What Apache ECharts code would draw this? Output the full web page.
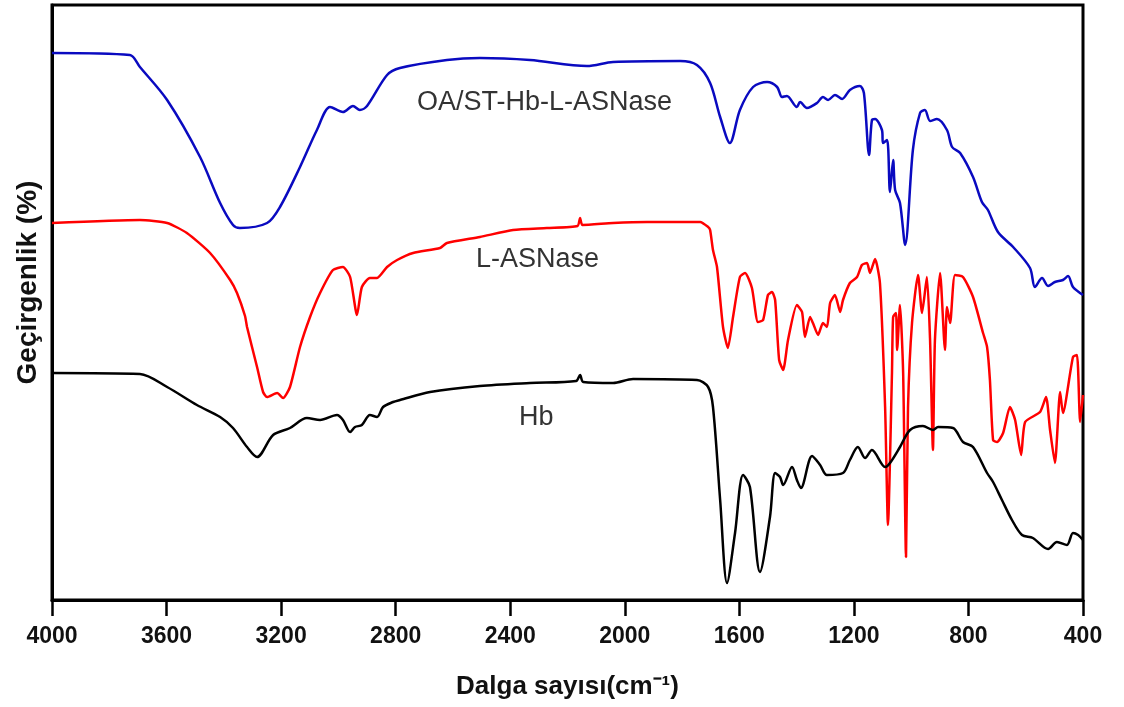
<!DOCTYPE html>
<html>
<head>
<meta charset="utf-8">
<script src="https://cdn.jsdelivr.net/npm/echarts@6/dist/echarts.min.js"></script>
<style>
  html, body { margin: 0; padding: 0; background: #fff; }
  #chart { width: 1124px; height: 707px; }
</style>
</head>
<body>
<div id="chart"></div>
<script>
// wavenumber (cm-1) / transmittance (a.u.)
var blueX = [4000,3728,3693,3598,3483,3413,3368,3344,3249,3204,3134,3075,3029,2984,2949,2925,2900,2830,2785,2621,2506,2331,2132,2041,1807,1748,1702,1667,1633,1598,1552,1503,1468,1451,1434,1399,1388,1364,1329,1308,1290,1266,1241,1214,1179,1165,1147,1137,1126,1102,1098,1084,1074,1063,1056,1039,1021,994,969,952,934,910,875,857,829,784,753,732,697,644,585,568,543,522,498,470,452,435,400];
var blueY = [547,545,533,500,443,397,375,372,377,393,433,470,493,488,494,490,494,525,532,540,542,540,534,538,539,535,517,483,457,490,513,518,513,503,504,493,498,492,497,503,500,505,501,510,514,507,445,480,481,470,457,460,408,440,410,397,355,450,487,490,479,481,470,453,447,423,398,390,368,353,332,313,322,314,318,320,324,313,305];

var redX = [4000,3693,3598,3529,3448,3378,3354,3326,3319,3284,3263,3249,3214,3193,3169,3134,3099,3064,3019,2984,2959,2935,2918,2890,2865,2830,2795,2739,2645,2621,2506,2390,2272,2165,2156,2148,2041,1922,1737,1709,1702,1692,1678,1657,1640,1622,1598,1580,1556,1535,1517,1500,1486,1475,1461,1447,1430,1399,1381,1371,1353,1343,1325,1308,1294,1283,1266,1248,1238,1214,1189,1172,1154,1144,1126,1109,1091,1081,1067,1063,1053,1049,1039,1028,1018,1011,997,976,962,945,934,924,917,899,882,875,864,847,819,784,749,735,725,714,700,679,655,637,616,602,550,529,515,498,480,470,435,421,410,400];
var redY = [377,380,377,367,347,320,307,284,273,233,208,203,207,202,213,253,283,307,330,333,323,285,313,322,322,333,340,347,352,357,363,370,372,374,382,375,377,378,378,373,370,350,333,273,252,283,323,327,312,278,280,305,308,300,240,230,260,295,288,263,283,277,265,277,273,297,305,288,300,317,323,335,337,327,341,317,193,75,227,283,287,250,295,227,43,193,277,325,287,323,260,150,260,327,250,293,277,325,323,303,267,253,220,160,158,167,193,180,145,178,188,203,170,137,208,187,243,245,178,205];

var blackX = [4000,3693,3598,3494,3413,3368,3319,3284,3228,3169,3110,3064,3005,2984,2959,2942,2918,2890,2865,2844,2809,2785,2680,2506,2331,2170,2156,2145,2041,1971,1748,1709,1692,1667,1643,1615,1587,1563,1528,1493,1475,1458,1447,1416,1399,1385,1346,1318,1294,1238,1214,1186,1161,1137,1091,1074,1039,1004,959,924,906,854,819,784,735,714,683,648,613,575,522,491,456,435,417,400];
var blackY = [227,226,213,195,183,172,153,143,165,172,182,180,185,180,168,173,175,185,183,193,198,200,208,214,217,219,225,218,217,221,220,213,193,100,17,67,125,113,28,83,127,123,115,133,120,112,144,135,125,127,140,153,142,150,133,137,153,170,174,170,173,172,158,153,127,118,100,80,65,62,51,58,55,67,65,60];

var xTicks = [4000,3600,3200,2800,2400,2000,1600,1200,800,400];
var seriesNames = ['OA/ST-Hb-L-ASNase','L-ASNase','Hb'];

function pairs(xs, ys) {
  return xs.map(function (x, i) { return [x, ys[i]]; });
}

var myChart = echarts.init(document.getElementById('chart'));
var option = {
  animation: false,
  grid: {
    left: 52, right: 41, top: 5, bottom: 107,
    outerBoundsMode: 'none',
    containLabel: false,
    show: true, borderColor: '#000', borderWidth: 3
  },
  xAxis: {
    type: 'value',
    inverse: true,
    min: 400, max: 4000, interval: 400,
    name: 'Dalga sayısı(cm⁻¹)',
    nameLocation: 'middle',
    nameGap: 74,
    nameTextStyle: { color: '#111', fontSize: 26, fontWeight: 'bold', fontFamily: 'Liberation Sans, Arial' },
    axisLine: { lineStyle: { color: '#000', width: 3 } },
    axisTick: { length: 16, lineStyle: { color: '#000', width: 2.5 } },
    axisLabel: {
      margin: 25, color: '#111', fontSize: 23, fontWeight: 'bold',
      fontFamily: 'Liberation Sans, Arial',
      formatter: function (v) { return xTicks.indexOf(v) >= 0 ? String(v) : ''; }
    },
    splitLine: { show: false }
  },
  yAxis: {
    type: 'value',
    min: 0, max: 595,
    name: 'Geçirgenlik (%)',
    nameLocation: 'middle',
    nameGap: 10,
    nameTextStyle: { color: '#111', fontSize: 28, fontWeight: 'bold', fontFamily: 'Liberation Sans, Arial', padding: [0, 0, 0, 40] },
    axisLine: { show: true, lineStyle: { color: '#000', width: 3 } },
    axisTick: { show: false },
    axisLabel: { show: false },
    splitLine: { show: false }
  },
  graphic: [
    { type: 'text', x: 417, y: 103, style: { text: seriesNames[0], fill: '#333', font: '27px Liberation Sans, Arial', verticalAlign: 'middle' } },
    { type: 'text', x: 476, y: 260, style: { text: seriesNames[1], fill: '#333', font: '27px Liberation Sans, Arial', verticalAlign: 'middle' } },
    { type: 'text', x: 519, y: 418, style: { text: seriesNames[2], fill: '#333', font: '27px Liberation Sans, Arial', verticalAlign: 'middle' } }
  ],
  series: [
    { name: seriesNames[0], type: 'line', data: pairs(blueX, blueY), showSymbol: false, smooth: 0.3,
      lineStyle: { color: '#0a0ac0', width: 2.5 } },
    { name: seriesNames[1], type: 'line', data: pairs(redX, redY), showSymbol: false, smooth: 0.2,
      lineStyle: { color: '#ff0000', width: 2.5 } },
    { name: seriesNames[2], type: 'line', data: pairs(blackX, blackY), showSymbol: false, smooth: 0.3,
      lineStyle: { color: '#000', width: 2.5 } }
  ]
};
myChart.setOption(option, true);
</script>
</body>
</html>
